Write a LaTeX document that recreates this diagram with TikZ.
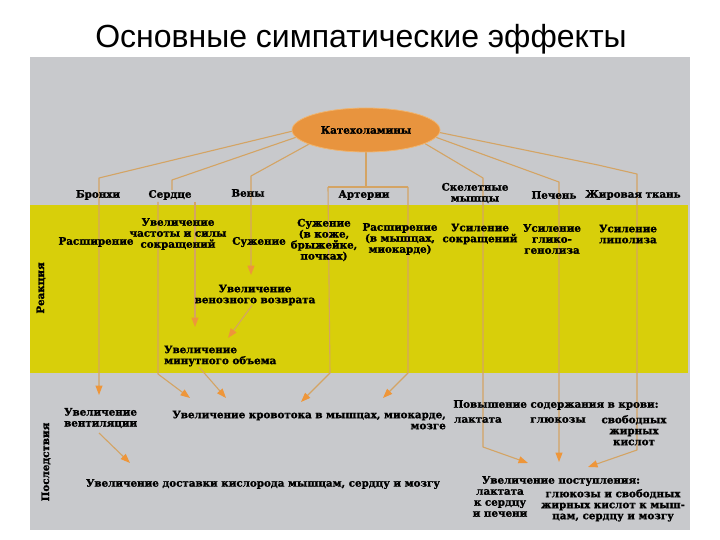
\documentclass[tikz,border=0pt]{standalone}
\usepackage{fontspec}
\setmainfont{DejaVu Serif}
\newfontfamily\heavy{DejaVu Serif Bold}[FakeBold=1.4]
\newfontfamily\titlefont{Liberation Sans}
\usetikzlibrary{arrows.meta,shapes.geometric}
\pgfdeclarelayer{bg}
\pgfdeclarelayer{mid}
\pgfsetlayers{bg,mid,main}
\definecolor{panelgray}{RGB}{200,201,204}
\definecolor{bandyellow}{RGB}{216,207,10}
\definecolor{catorange}{RGB}{232,148,62}
\definecolor{catedge}{RGB}{240,180,110}
\definecolor{linetan}{RGB}{212,164,100}
\definecolor{arroworange}{RGB}{238,150,58}
\begin{document}
\begin{tikzpicture}[x=1pt,y=-1pt,
  lbl/.style={font=\heavy\fontsize{10.3}{11}\selectfont, inner sep=0pt, align=center, text=black},
  conn/.style={draw=linetan, line width=1.1pt, line join=round},
  arr/.style={conn, -{Triangle[length=9.5pt,width=7pt,color=arroworange]}}]
\useasboundingbox (0,0) rectangle (720,540);

% title
\node[font=\titlefont\fontsize{32}{38}\selectfont, anchor=base, inner sep=0pt] (title) at (361,48) {Основные симпатические эффекты};

% background panel and band
\begin{pgfonlayer}{bg}
  \fill[panelgray] (30,57) rectangle (690,530);
  \fill[bandyellow] (30,205) rectangle (688,373);
\end{pgfonlayer}

% central node
\node[lbl, ellipse, fill=catorange, draw=catedge, line width=0.8pt, minimum width=148pt, minimum height=44pt] (cat) at (366,130) {Катехоламины};

% targets
\node[lbl] (bron) at (98,195) {Бронхи};
\node[lbl] (serd) at (170,195) {Сердце};
\node[lbl] (veny) at (248,193) {Вены};
\node[lbl] (art)  at (364,195) {Артерии};
\node[lbl] (skel) at (475,193) {Скелетные\\мышцы};
\node[lbl] (pech) at (554,195) {Печень};
\node[lbl] (zhir) at (633,195) {Жировая ткань};

% reactions
\node[lbl] (r1) at (96,242) {Расширение};
\node[lbl] (r2) at (178,234) {Увеличение\\частоты и силы\\сокращений};
\node[lbl] (r3) at (259,242) {Сужение};
\node[lbl] (r4) at (324,240) {Сужение\\(в коже,\\брыжейке,\\почках)};
\node[lbl] (r5) at (400,239) {Расширение\\(в мышцах,\\миокарде)};
\node[lbl] (r6) at (480,234) {Усиление\\сокращений};
\node[lbl] (r7) at (552,239) {Усиление\\глико-\\генолиза};
\node[lbl] (r8) at (628,234) {Усиление\\липолиза};
\node[lbl] (vv) at (255,295) {Увеличение\\венозного возврата};
\node[lbl, align=left, anchor=west] (mv) at (164,356) {Увеличение\\минутного объема};

% side labels
\node[lbl, rotate=90] (reak) at (41,288) {Реакция};
\node[lbl, rotate=90] (posl) at (46,462) {Последствия};

% consequences
\node[lbl, align=left, anchor=west] (vent) at (64,418) {Увеличение\\вентиляции};
\node[lbl, align=right, anchor=east] (krov) at (446,420) {Увеличение кровотока в мышцах, миокарде,\\мозге};
\node[lbl] (pov) at (556,405) {Повышение содержания в крови:};
\node[lbl] (lak1) at (478,420) {лактата};
\node[lbl] (glu1) at (558,420) {глюкозы};
\node[lbl, anchor=north] (svob) at (634,415) {свободных\\жирных\\кислот};
\node[lbl] (dost) at (263,484) {Увеличение доставки кислорода мышцам, сердцу и мозгу};
\node[lbl] (post) at (561,481) {Увеличение поступления:};
\node[lbl, anchor=north] (lak2) at (500,489) {лактата\\к сердцу\\и печени};
\node[lbl, anchor=north] (glu2) at (613,489) {глюкозы и свободных\\жирных кислот к мыш-\\цам, сердцу и мозгу};

% connectors
\begin{pgfonlayer}{mid}
  \coordinate (bronA) at (99,178);
  \coordinate (bronB) at (99,395);
  \draw[arr] (cat.181) -- (bronA) -- (bronB);

  \coordinate (serdA) at (172,180);
  \draw[conn] (cat.186) -- (serdA) -- (serd.north -| serdA);
  \coordinate (serdL1) at (158,202);
  \coordinate (serdL2) at (158,374);
  \coordinate (krovT1) at (190,398);
  \draw[arr] (serdL1) -- (serdL2) -- (krovT1);
  \coordinate (serdR1) at (195,202);
  \coordinate (mvT) at (195,327);
  \draw[arr] (serdR1) -- (mvT);

  \coordinate (venyA) at (251,176);
  \coordinate (vvT) at (251,275);
  \draw[arr] (cat.194) -- (venyA) -- (vvT);

  \coordinate (artA) at (366,187);
  \coordinate (artL) at (328,187);
  \coordinate (artR) at (408,187);
  \draw[conn] (cat.270) -- (artA);
  \draw[conn] (artL) -- (artR);
  \draw[arr] (artL) -- (330,373) -- (301,402);
  \draw[arr] (artR) -- (408,373) -- (383,398);

  \coordinate (skelA) at (483,178);
  \draw[arr] (cat.347) -- (skelA) -- (483,447) -- (528,463);

  \coordinate (pechA) at (559,182);
  \draw[arr] (cat.354) -- (pechA) -- (559,462);

  \coordinate (zhirA) at (598,165);
  \coordinate (zhirB) at (637,174);
  \draw[arr] (cat.358) -- (zhirA) -- (zhirB) -- (637,450) -- (588,467);

  \draw[arr] (vv.south -| 252,0) -- (228,338);
  \draw[arr] (199,367) -- (226,398);
  \draw[arr] (99,433) -- (130,463);
\end{pgfonlayer}
\end{tikzpicture}
\end{document}
